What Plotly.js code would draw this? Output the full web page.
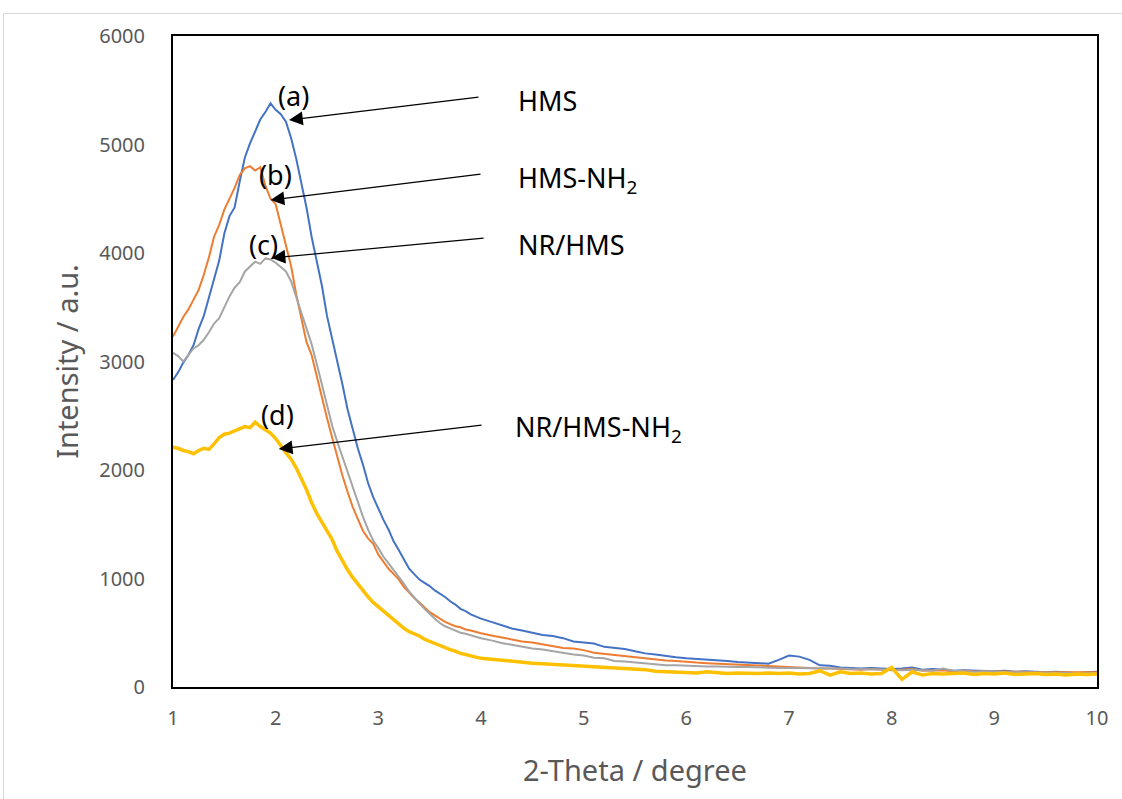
<!DOCTYPE html>
<html>
<head>
<meta charset="utf-8">
<script src="https://cdn.plot.ly/plotly-3.0.1.min.js"></script>
<style>
  html, body { margin: 0; padding: 0; background: #ffffff; overflow: hidden; }
  #frame { position: absolute; left: 3px; top: 13px; width: 1130px; height: 800px; border: 1px solid #d9d9d9; box-sizing: border-box; }
  #chart { width: 1128px; height: 798px; }
</style>
</head>
<body>
<div id="frame"><div id="chart"></div></div>
<script>
// 2-Theta (degree)
const twoTheta = [
  1.00,1.05,1.10,1.15,1.20,1.25,1.30,1.35,1.40,1.45,1.50,1.55,1.60,1.65,1.70,1.75,1.80,1.85,1.90,1.95,
  2.00,2.05,2.10,2.15,2.20,2.25,2.30,2.35,2.40,2.45,2.50,2.55,2.60,2.65,2.70,2.75,2.80,2.85,2.90,2.95,
  3.00,3.05,3.10,3.15,3.20,3.25,3.30,3.35,3.40,3.45,3.50,3.55,3.60,3.65,3.70,3.75,3.80,3.85,3.90,3.95,
  4.0,4.1,4.2,4.3,4.4,4.5,4.6,4.7,4.8,4.9,5.0,5.1,5.2,5.3,5.4,5.5,5.6,5.7,5.8,5.9,
  6.0,6.1,6.2,6.3,6.4,6.5,6.6,6.7,6.8,6.9,7.0,7.1,7.2,7.3,7.4,7.5,7.6,7.7,7.8,7.9,
  8.0,8.1,8.2,8.3,8.4,8.5,8.6,8.7,8.8,8.9,9.0,9.1,9.2,9.3,9.4,9.5,9.6,9.7,9.8,9.9,10.0
];

// (a) HMS
const hms = [
  2830,2900,2990,3060,3150,3300,3420,3580,3760,3930,4180,4340,4420,4660,4880,5010,5120,5230,5300,5380,
  5320,5280,5210,5060,4870,4660,4420,4150,3910,3700,3420,3220,3010,2790,2560,2380,2200,2050,1880,1750,
  1640,1540,1450,1340,1260,1170,1090,1040,990,960,930,890,860,830,790,760,720,700,670,650,
  630,600,570,540,520,500,480,470,450,420,410,400,370,360,350,330,310,300,285,275,
  265,260,250,245,240,230,225,225,215,250,290,280,250,200,195,180,175,170,175,170,
  165,170,180,160,165,160,150,155,150,150,145,150,140,145,140,135,140,135,130,135,140
];

// (b) HMS-NH2
const hmsNH2 = [
  3230,3320,3410,3480,3570,3660,3800,3960,4150,4260,4400,4500,4600,4720,4780,4800,4760,4790,4620,4500,
  4450,4260,4080,3880,3620,3400,3180,3060,2860,2660,2480,2300,2120,1950,1800,1660,1550,1440,1370,1320,
  1220,1150,1090,1040,990,920,870,820,780,730,690,660,630,600,580,560,550,530,520,505,
  495,475,455,435,420,410,395,375,360,355,340,315,305,290,280,270,260,255,245,240,
  230,225,220,215,215,205,205,200,195,190,185,180,175,170,170,165,165,160,165,160,
  155,160,165,150,150,155,145,150,145,145,140,145,140,140,135,135,130,135,130,130,135
];

// (c) NR/HMS
const nrHms = [
  3080,3050,3000,3060,3120,3150,3200,3270,3350,3400,3500,3600,3680,3730,3830,3880,3920,3900,3950,3940,
  3910,3870,3830,3740,3600,3460,3320,3160,2980,2790,2600,2410,2260,2120,1990,1840,1700,1570,1450,1350,
  1280,1200,1140,1080,1020,950,880,820,770,720,670,630,590,560,540,520,500,490,475,460,
  450,430,405,390,370,355,345,330,310,300,290,270,265,240,235,225,215,205,200,200,
  195,195,190,190,185,185,185,180,180,175,175,175,170,170,175,170,165,165,160,165,
  160,155,160,155,150,170,150,145,140,145,140,140,135,135,135,130,130,130,125,125,130
];

// (d) NR/HMS-NH2
const nrHmsNH2 = [
  2210,2200,2180,2170,2150,2180,2200,2190,2240,2300,2330,2340,2360,2380,2400,2390,2440,2400,2370,2340,
  2290,2220,2160,2100,2020,1920,1820,1700,1600,1520,1440,1360,1250,1160,1080,1010,950,880,830,780,
  740,700,660,610,580,540,510,490,470,440,420,400,380,360,345,330,310,300,285,275,
  265,255,245,235,225,220,215,210,205,200,195,190,185,180,175,165,160,145,140,140,
  135,130,140,130,125,130,125,125,130,125,130,120,125,150,110,140,125,130,120,125,
  180,70,140,110,125,120,125,130,115,125,120,130,115,120,125,115,120,110,120,115,120
];

const seriesNames = ['HMS', 'HMS-NH<sub>2</sub>', 'NR/HMS', 'NR/HMS-NH<sub>2</sub>'];
const peakLabels = ['(a)', '(b)', '(c)', '(d)'];
const yTicks = [0, 1000, 2000, 3000, 4000, 5000, 6000];
const xTicks = [1, 2, 3, 4, 5, 6, 7, 8, 9, 10];

// annotation placement (data coordinates)
const labelPos = [[2.17, 5450], [2.00, 4720], [1.88, 4075], [2.02, 2515]];
const arrowHead = [[2.13, 5226], [1.95, 4488], [1.96, 3954], [2.03, 2194]];
const arrowTail = [[3.99, 5438], [4.01, 4728], [4.04, 4138], [4.02, 2415]];
const namePos = [[4.34, 5410], [4.34, 4673], [4.34, 4074], [4.31, 2387]];

const colors = ['#4472C4', '#ED7D31', '#A5A5A5', '#FFC000'];
const widths = [2, 2, 2, 3.5];
const ys = [hms, hmsNH2, nrHms, nrHmsNH2];

const traces = ys.map((y, i) => ({
  x: twoTheta, y: y, type: 'scatter', mode: 'lines', name: seriesNames[i],
  line: { color: colors[i], width: widths[i] }, hoverinfo: 'skip'
}));

const annFont = { family: 'Noto Sans, Open Sans, sans-serif', size: 27, color: '#000000' };
const annotations = [];
for (let i = 0; i < 4; i++) {
  annotations.push({
    x: arrowHead[i][0], y: arrowHead[i][1], xref: 'x', yref: 'y',
    ax: arrowTail[i][0], ay: arrowTail[i][1], axref: 'x', ayref: 'y',
    text: '', showarrow: true, arrowhead: 2, arrowsize: 2.3, arrowwidth: 1.2, arrowcolor: '#000000'
  });
  annotations.push({
    x: labelPos[i][0], y: labelPos[i][1], xref: 'x', yref: 'y', text: peakLabels[i],
    showarrow: false, font: annFont
  });
  annotations.push({
    x: namePos[i][0], y: namePos[i][1], xref: 'x', yref: 'y', text: seriesNames[i],
    showarrow: false, xanchor: 'left', font: annFont
  });
}

const layout = {
  width: 1128, height: 798,
  margin: { l: 169, r: 35, t: 22, b: 125 },
  paper_bgcolor: '#ffffff', plot_bgcolor: '#ffffff',
  showlegend: false,
  font: { family: 'Noto Sans, Open Sans, sans-serif', color: '#595959' },
  xaxis: {
    range: [1, 10], tickvals: xTicks, ticktext: xTicks.map(String),
    showgrid: false, zeroline: false, showline: true, linecolor: '#000000', linewidth: 2, mirror: true,
    ticks: '', ticklabelstandoff: 12,
    tickfont: { size: 20, color: '#595959' },
    title: { text: '2-Theta / degree', font: { size: 29, color: '#595959' }, standoff: 31 }
  },
  yaxis: {
    range: [0, 6000], tickvals: yTicks, ticktext: yTicks.map(String),
    showgrid: false, zeroline: false, showline: true, linecolor: '#000000', linewidth: 2, mirror: true,
    ticks: '', ticklabelstandoff: 22,
    tickfont: { size: 20, color: '#595959' },
    title: { text: 'Intensity / a.u.', font: { size: 29, color: '#595959' }, standoff: 12 }
  },
  annotations: annotations
};

Plotly.newPlot('chart', traces, layout, { staticPlot: true, displayModeBar: false });
</script>
</body>
</html>
